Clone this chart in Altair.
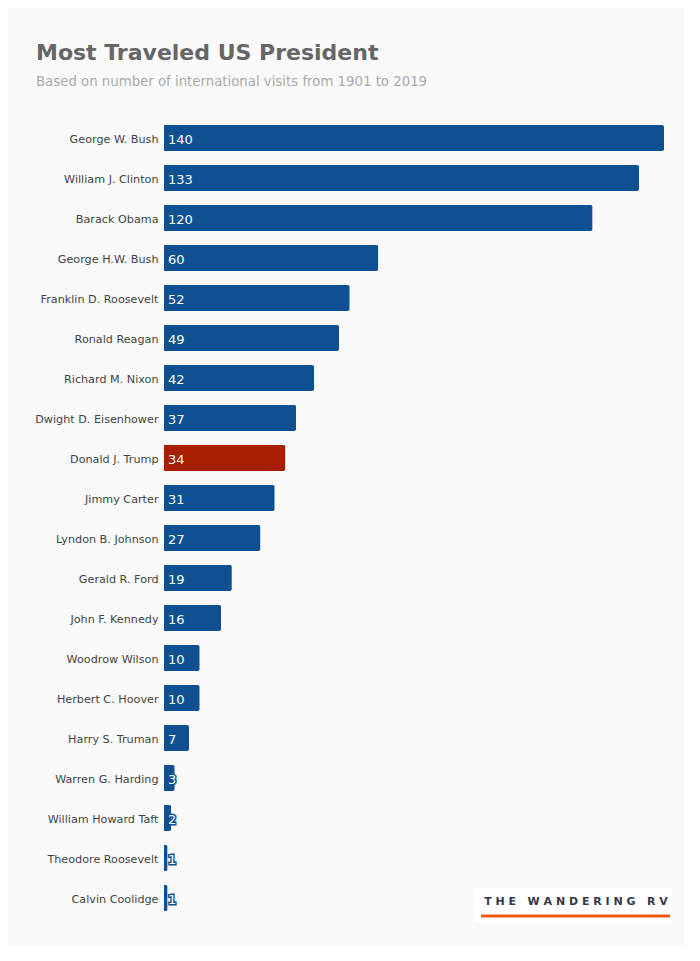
import altair as alt
import pandas as pd

presidents = ["George W. Bush", "William J. Clinton", "Barack Obama", "George H.W. Bush",
              "Franklin D. Roosevelt", "Ronald Reagan", "Richard M. Nixon", "Dwight D. Eisenhower",
              "Donald J. Trump", "Jimmy Carter", "Lyndon B. Johnson", "Gerald R. Ford",
              "John F. Kennedy", "Woodrow Wilson", "Herbert C. Hoover", "Harry S. Truman",
              "Warren G. Harding", "William Howard Taft", "Theodore Roosevelt", "Calvin Coolidge"]
visits = [140, 133, 120, 60, 52, 49, 42, 37, 34, 31, 27, 19, 16, 10, 10, 7, 3, 2, 1, 1]
highlight = ["Donald J. Trump"]

df = pd.DataFrame({"president": presidents, "visits": visits})
df["hl"] = df["president"].isin(highlight).map({True: "yes", False: "no"})

FONT = "DejaVu Sans"
BLUE = "#0f5093"
RED = "#a81e00"
color_scale = alt.Scale(domain=["no", "yes"], range=[BLUE, RED])

y_enc = alt.Y("president:N", sort=presidents, title=None,
              scale=alt.Scale(paddingInner=0.35, paddingOuter=0.175),
              axis=alt.Axis(domain=False, ticks=False, labelFontSize=11.2, labelColor="#444",
                            labelFont=FONT, labelPadding=6, labelLimit=200, labelOffset=1.5))

bars = alt.Chart(df).mark_bar(cornerRadiusTopRight=2, cornerRadiusBottomRight=2).encode(
    x=alt.X("visits:Q", scale=alt.Scale(domain=[0, 140], nice=False), axis=None),
    y=y_enc,
    color=alt.Color("hl:N", scale=color_scale, legend=None),
)

outline = alt.Chart(df).mark_text(align="left", baseline="middle", dx=4, dy=1.5, fontSize=13,
                                  font=FONT, strokeWidth=3).encode(
    x=alt.datum(0), y=alt.Y("president:N", sort=presidents), text="visits:Q",
    fill=alt.Fill("hl:N", scale=color_scale, legend=None),
    stroke=alt.Stroke("hl:N", scale=color_scale, legend=None))

labels = alt.Chart(df).mark_text(align="left", baseline="middle", dx=4, dy=1.5, fontSize=13,
                                 font=FONT, color="white").encode(
    x=alt.datum(0), y=alt.Y("president:N", sort=presidents), text="visits:Q")

NB = "\u00a0"
logo_label = "T H E" + NB * 3 + "W A N D E R I N G" + NB * 3 + "R V"

logo_box = alt.Chart(pd.DataFrame({"a": [0]})).mark_rect(color="white").encode(
    x=alt.value(310), x2=alt.value(508), y=alt.value(770), y2=alt.value(804))
logo_line = alt.Chart(pd.DataFrame({"a": [0]})).mark_rule(color="#f25a12", strokeWidth=3).encode(
    x=alt.value(317), x2=alt.value(506), y=alt.value(798))
logo_text = alt.Chart(pd.DataFrame({"a": [0]})).mark_text(
    text=logo_label, font=FONT, fontSize=11, fontWeight="bold",
    color="#333a45", align="center", baseline="middle").encode(
    x=alt.value(412), y=alt.value(784))

chart = alt.layer(bars, outline, labels, logo_box, logo_line, logo_text).properties(
    width=500, height=800,
    autosize=alt.AutoSizeParams(type="none"),
    padding={"left": 156, "top": 110, "right": 20, "bottom": 28},
    background="#fafafa",
    title=alt.TitleParams(
        "Most Traveled US President",
        subtitle="Based on number of international visits from 1901 to 2019",
        anchor="start", frame="group", dx=-128, offset=29,
        font=FONT, fontSize=22, fontWeight="bold", color="#666666",
        subtitleFont=FONT, subtitleFontSize=13.3, subtitleColor="#aaaaaa", subtitlePadding=10,
    ),
).configure_view(stroke=None)

chart.save("out.html", embed_options={"renderer": "svg", "actions": False})
